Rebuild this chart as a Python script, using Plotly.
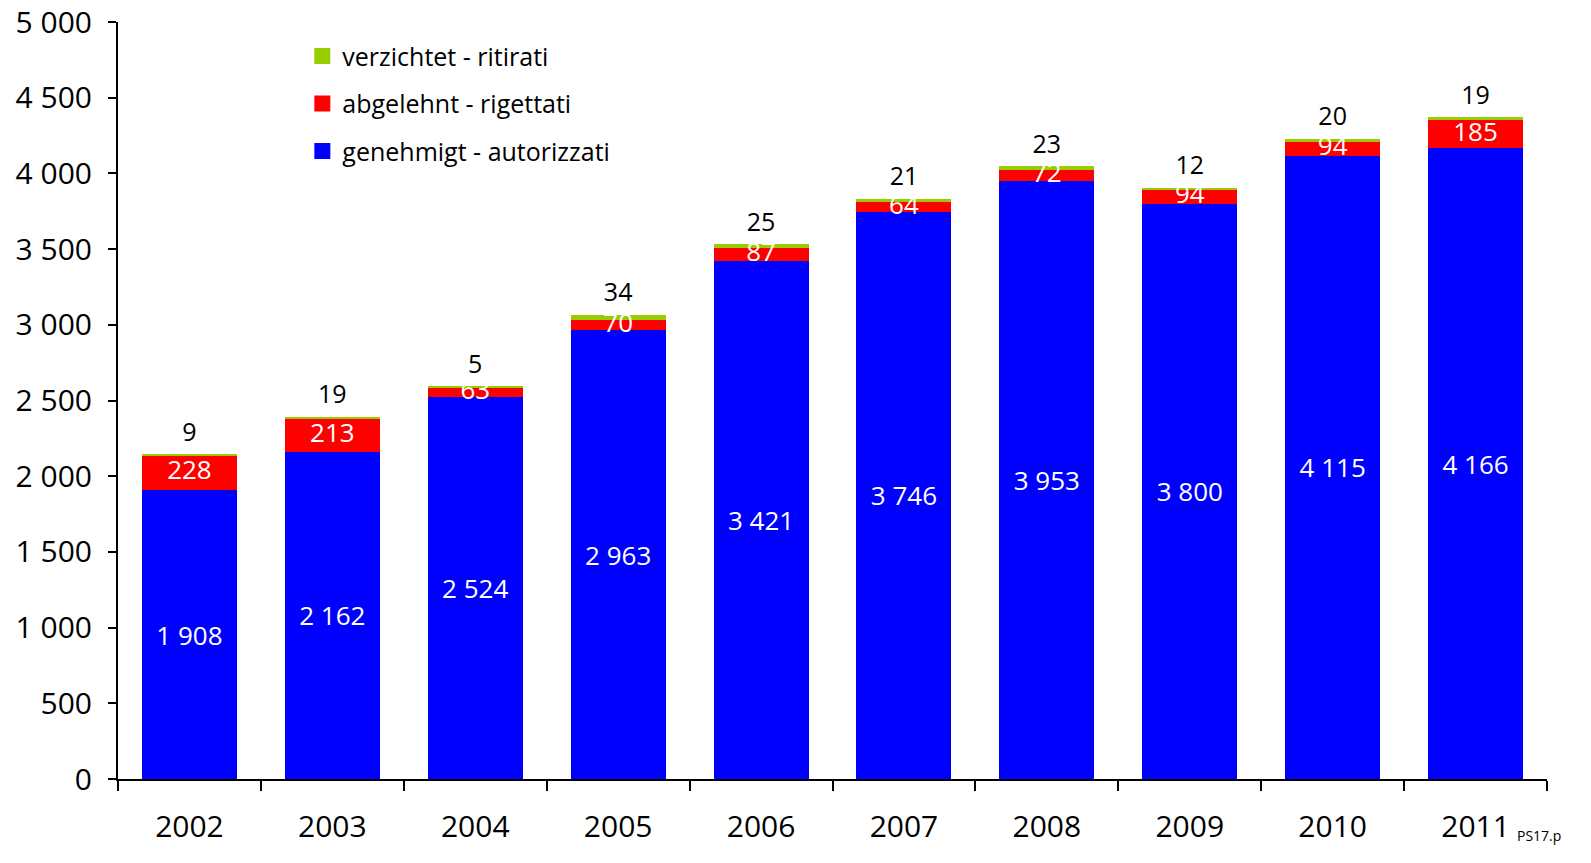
import plotly.graph_objects as go

years = ["2002", "2003", "2004", "2005", "2006", "2007", "2008", "2009", "2010", "2011"]
approved = [1908, 2162, 2524, 2963, 3421, 3746, 3953, 3800, 4115, 4166]
rejected = [228, 213, 63, 70, 87, 64, 72, 94, 94, 185]
withdrawn = [9, 19, 5, 34, 25, 21, 23, 12, 20, 19]

names = ["genehmigt - autorizzati", "abgelehnt - rigettati", "verzichtet - ritirati"]
colors = ["#0000FF", "#FF0000", "#99CC00"]

FONT = "Open Sans"

def fmt(v):
    return f"{v:,}".replace(",", " ")

fig = go.Figure()
fig.add_trace(go.Bar(x=years, y=approved, name=names[0], marker_color=colors[0],
                     marker_line_width=0, showlegend=False,
                     text=[fmt(v) for v in approved], textposition="inside",
                     insidetextanchor="middle", textangle=0,
                     textfont=dict(color="white", size=26, family=FONT)))
fig.add_trace(go.Bar(x=years, y=rejected, name=names[1], marker_color=colors[1],
                     marker_line_width=0, showlegend=False, textposition="none"))
fig.add_trace(go.Bar(x=years, y=withdrawn, name=names[2], marker_color=colors[2],
                     marker_line_width=0, showlegend=False, textposition="none"))

# labels for red segments (centered in segment)
red_mid = [a + r / 2 for a, r in zip(approved, rejected)]
fig.add_trace(go.Scatter(x=years, y=red_mid, mode="text", text=[fmt(v) for v in rejected],
                         textposition="middle center", showlegend=False, hoverinfo="skip",
                         textfont=dict(color="white", size=26, family=FONT), cliponaxis=False))

# labels for green segments (above the bar; invisible marker pushes text up)
tops = [a + r + w for a, r, w in zip(approved, rejected, withdrawn)]
fig.add_trace(go.Scatter(x=years, y=tops, mode="markers+text", text=[fmt(v) for v in withdrawn],
                         textposition="top center", showlegend=False, hoverinfo="skip",
                         marker=dict(size=10, opacity=0),
                         textfont=dict(color="black", size=25, family=FONT), cliponaxis=False))

# legend entries (square swatches), top to bottom: green, red, blue
for i in [2, 1, 0]:
    fig.add_trace(go.Scatter(x=[years[0]], y=[None], mode="markers", name=names[i],
                             legendgroup=f"g{i}", hoverinfo="skip",
                             marker=dict(symbol="square", size=17, color=colors[i])))

fig.update_layout(
    barmode="stack",
    bargap=0.335,
    width=1591, height=863,
    margin=dict(l=118, r=44, t=22, b=84, autoexpand=False),
    paper_bgcolor="white", plot_bgcolor="white",
    separators=", ",
    font=dict(family=FONT, color="black", size=26),
    legend=dict(x=0.129, y=0.985, xanchor="left", yanchor="top",
                traceorder="grouped", tracegroupgap=12, itemsizing="trace",
                font=dict(size=25, family=FONT), bgcolor="rgba(0,0,0,0)"),
    showlegend=True,
)
fig.update_xaxes(type="category", categoryorder="array", categoryarray=years,
                 range=[-0.5, len(years) - 0.5],
                 showline=True, linecolor="black", linewidth=2,
                 ticks="outside", tickson="boundaries", ticklen=10, tickwidth=2,
                 tickcolor="black", tickfont=dict(size=30, family=FONT), tickangle=0,
                 ticklabelstandoff=20, showgrid=False, automargin=False)
fig.update_yaxes(range=[0, 5000], dtick=500, tickformat=",d", showline=True,
                 linecolor="black", linewidth=2, ticks="outside", ticklen=8, tickwidth=2,
                 tickcolor="black", tickfont=dict(size=30, family=FONT),
                 ticklabelstandoff=10, showgrid=False, zeroline=False, automargin=False)

fig.add_annotation(text="PS17.p", xref="paper", yref="paper", x=1.0, y=-0.075,
                   xanchor="left", yanchor="middle", showarrow=False,
                   font=dict(size=14, family=FONT, color="black"), xshift=-32)

fig.write_html("out.html", config={"displayModeBar": False},
               post_script="document.body.style.margin='0';")
